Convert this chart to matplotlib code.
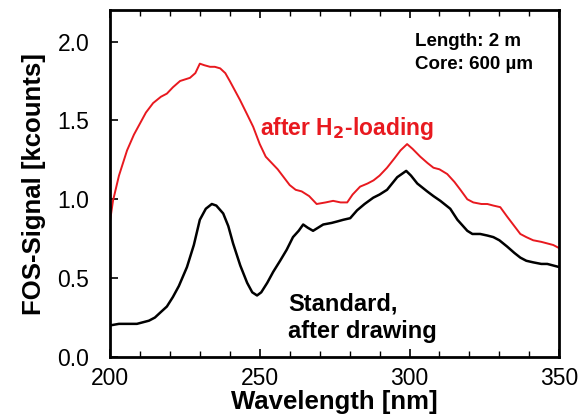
import matplotlib
matplotlib.use('Agg')
import matplotlib.pyplot as plt
import numpy as np
from matplotlib.ticker import MultipleLocator, FormatStrFormatter

plt.rcParams['font.family'] = ['Liberation Sans', 'DejaVu Sans']

# after H2-loading (red)
wl_h2 = [200, 201, 203, 205.7, 208, 210, 212, 214.4, 217, 219, 221, 223.4, 226.7, 228.5,
         230, 231.5, 233.4, 235, 236.8, 238.5, 240, 243.4, 246, 247.8, 250, 252, 254, 256,
         258, 260, 262, 264, 266.5, 269, 272, 274.5, 277, 279.2, 281, 283.5, 286, 288, 290,
         292.5, 295, 297, 299.2, 301, 303.6, 306, 308, 310, 312.6, 315, 317, 319.3, 321.3,
         324, 326, 328, 330.3, 332.6, 335, 337, 339, 341.3, 344, 346, 348, 350]
sig_h2 = [0.86, 0.99, 1.15, 1.31, 1.41, 1.48, 1.55, 1.61, 1.65, 1.67, 1.71, 1.75, 1.77, 1.80,
          1.86, 1.85, 1.84, 1.84, 1.83, 1.80, 1.75, 1.63, 1.53, 1.46, 1.35, 1.27, 1.23, 1.19,
          1.14, 1.09, 1.06, 1.05, 1.02, 0.97, 0.98, 0.99, 0.98, 0.98, 1.03, 1.08, 1.10, 1.12, 1.15,
          1.20, 1.26, 1.31, 1.35, 1.32, 1.27, 1.23, 1.20, 1.19, 1.16, 1.11, 1.06, 1.00, 0.98,
          0.97, 0.97, 0.96, 0.95, 0.89, 0.83, 0.78, 0.76, 0.74, 0.73, 0.72, 0.71, 0.69]

# standard, after drawing (black)
wl_std = [200, 203, 206, 209, 211, 213, 215, 216.7, 219, 221, 223, 225.7, 228, 230, 232, 234,
          235.5, 237.8, 239.5, 241.1, 243.5, 245.8, 247.5, 249.1, 250.5, 252.5, 254.5, 256.8,
          259, 261.1, 263, 264.5, 266, 267.8, 269.5, 271.2, 274, 276, 277.9, 280.2, 282.5, 285,
          287.9, 290, 292.5, 295.9, 298.9, 300.5, 302.6, 305.9, 308, 310.3, 313.6, 316, 319.3,
          321, 323.6, 326, 328, 330, 332.6, 335, 337, 339, 341.3, 344, 346, 348, 350]
sig_std = [0.20, 0.21, 0.21, 0.21, 0.22, 0.23, 0.25, 0.28, 0.32, 0.38, 0.45, 0.57, 0.71, 0.87, 0.94, 0.97,
           0.96, 0.91, 0.83, 0.72, 0.58, 0.47, 0.41, 0.39, 0.41, 0.47, 0.54, 0.61,
           0.68, 0.76, 0.80, 0.84, 0.82, 0.80, 0.82, 0.84, 0.85, 0.86, 0.87, 0.88, 0.93, 0.97,
           1.01, 1.03, 1.06, 1.14, 1.18, 1.15, 1.10, 1.05, 1.02, 0.99, 0.94, 0.87, 0.80,
           0.78, 0.78, 0.77, 0.76, 0.74, 0.70, 0.66, 0.63, 0.61, 0.60, 0.59, 0.59, 0.58, 0.57]

red = '#e8191f'

fig = plt.figure(figsize=(5.85, 4.18), dpi=100)
ax = fig.add_axes([0.188, 0.146, 0.768, 0.830])

ax.plot(wl_h2, sig_h2, color=red, lw=1.4)
ax.plot(wl_std, sig_std, color='black', lw=1.8)

ax.set_xlim(200, 350)
ax.set_ylim(0, 2.2)
ax.xaxis.set_major_locator(MultipleLocator(50))
ax.xaxis.set_minor_locator(MultipleLocator(10))
ax.yaxis.set_major_locator(MultipleLocator(0.5))
ax.yaxis.set_major_formatter(FormatStrFormatter('%.1f'))
ax.tick_params(axis='x', which='both', direction='in', top=True, labelsize=16.5, pad=7)
ax.tick_params(axis='x', which='major', length=6, width=1.2)
ax.tick_params(axis='x', which='minor', length=4, width=1.0)
ax.tick_params(axis='y', direction='in', length=6, width=1.2, labelsize=16.5, pad=15)
for s in ax.spines.values():
    s.set_linewidth(2)

ax.set_xlabel('Wavelength [nm]', fontsize=18.5, fontweight='bold', labelpad=0)
ax.set_ylabel('FOS-Signal [kcounts]', fontsize=18.5, fontweight='bold', labelpad=8)

# annotations
ax.text(301.9, 1.975, 'Length: 2 m', fontsize=13.5, fontweight='bold', va='baseline', ha='left')
ax.text(301.9, 1.829, 'Core: 600 µm', fontsize=13.5, fontweight='bold', va='baseline', ha='left')
ax.text(250.1, 1.405, r'after H$_\mathbf{2}$-loading', color=red, fontsize=16.5,
        fontweight='bold', ha='left', va='baseline')
ax.text(259.5, 0.297, 'Standard,', fontsize=17, fontweight='bold', ha='left', va='baseline')
ax.text(259.5, 0.120, 'after drawing', fontsize=17, fontweight='bold', ha='left', va='baseline')

fig.savefig('out.png', dpi=100)
